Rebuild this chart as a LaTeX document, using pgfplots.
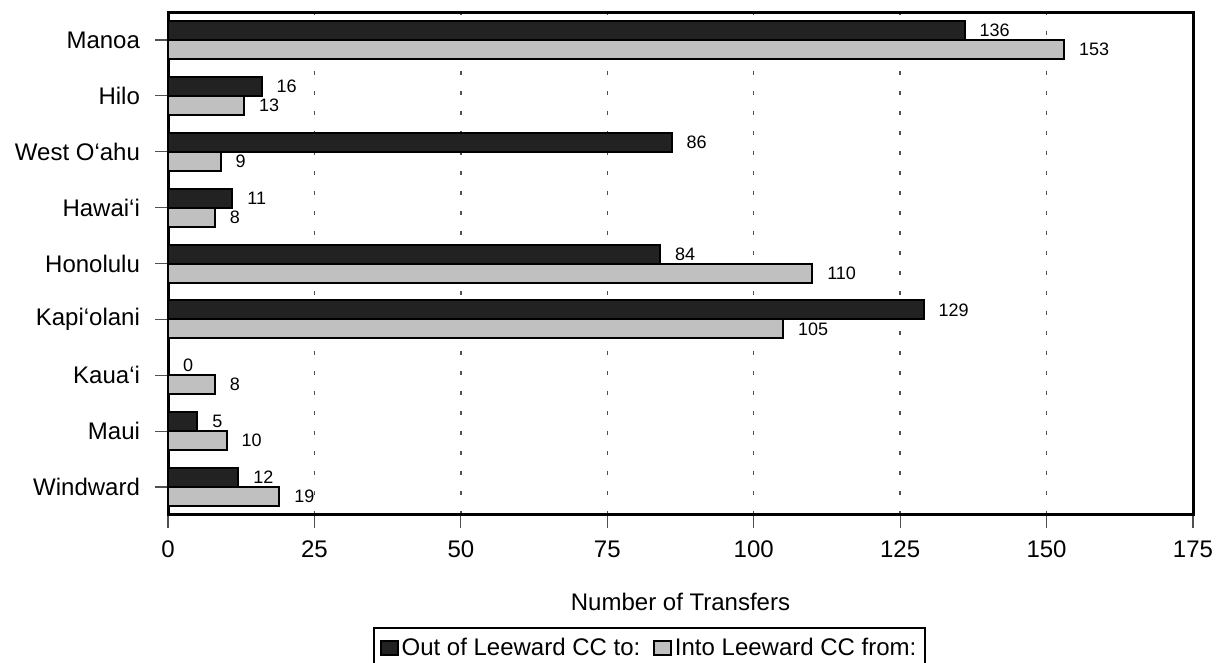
\documentclass[border=0pt]{standalone}
\usepackage{pgfplots}
\pgfplotsset{compat=1.18}
\usepackage{fontspec}
\setmainfont{Liberation Sans}
\definecolor{outcol}{RGB}{34,34,34}
\definecolor{intocol}{RGB}{192,192,192}
\definecolor{gridcol}{RGB}{80,80,80}

\begin{document}
\begin{tikzpicture}
% fixed page, legend runs off the bottom as in the original
\useasboundingbox (0,0) rectangle (611pt,331.5pt);
\begin{axis}[
  at={(84pt,74pt)}, anchor=south west,
  scale only axis,
  width=512.5pt, height=251.5pt,
  xbar, bar width=9.5pt,
  xmin=0, xmax=175, ymin=-0.5, ymax=8.5,
  xtick={0,25,...,175},
  ytick={0,...,8},
  yticklabels={Windward,Maui,Kaua‘i,Kapi‘olani,Honolulu,Hawai‘i,West O‘ahu,Hilo,Manoa},
  xtick pos=bottom, ytick pos=left,
  tick align=outside,
  major tick length=6.5pt,
  tick style={gridcol, line width=0.6pt},
  axis line style={black, line width=1.5pt},
  xmajorgrids,
  major grid style={gridcol, line width=0.7pt, dash pattern=on 1.8pt off 8.2pt},
  /pgf/number format/assume math mode=true,
  ticklabel style={font=\fontsize{12}{14}\selectfont},
  xticklabel style={yshift=-3pt},
  yticklabel style={xshift=-4pt},
  xlabel={Number of Transfers},
  xlabel style={at={(axis description cs:0.5,0)}, anchor=center, yshift=-43.5pt,
    font=\fontsize{12}{14}\selectfont},
  nodes near coords,
  every node near coord/.append style={font=\fontsize{9}{11}\selectfont,
    anchor=west, inner sep=0pt, xshift=7pt, black},
  legend columns=2,
  legend style={at={(0.2,-0.2227)}, anchor=north west, draw=black, line width=1pt,
    font=\fontsize{12}{14}\selectfont, inner xsep=3pt, inner ysep=3pt,
    nodes={inner xsep=1.5pt},
    /tikz/every even column/.append style={column sep=5pt}},
  legend image code/.code={\draw[#1, line width=0.8pt] (0pt,-3.5pt) rectangle (8.5pt,3.5pt);},
]
\addplot[fill=outcol, draw=black, line width=1pt, bar shift=4.75pt] coordinates {
  (12,0) (5,1) (0,2) (129,3) (84,4) (11,5) (86,6) (16,7) (136,8)};
\addplot[fill=intocol, draw=black, line width=1pt, bar shift=-4.75pt] coordinates {
  (19,0) (10,1) (8,2) (105,3) (110,4) (8,5) (9,6) (13,7) (153,8)};
\legend{Out of Leeward CC to:, Into Leeward CC from:}
\end{axis}
\end{tikzpicture}
\end{document}
